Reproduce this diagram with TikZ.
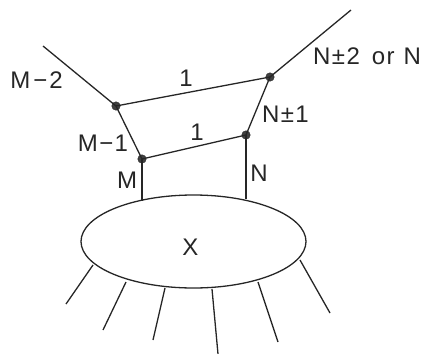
\documentclass[tikz,border=0pt]{standalone}
\usepackage{fontspec}
\setmainfont{Liberation Sans}[LetterSpace=6]
\usetikzlibrary{shapes.geometric}
\begin{document}
\begin{tikzpicture}[x=1pt,y=-1pt,
  ln/.style={line width=1.3pt,draw=black!85},
  vtx/.style={circle,fill=black!75,draw=black!85,inner sep=0pt,minimum size=8.5pt},
  lab/.style={font=\fontsize{24}{28}\selectfont,text=black!85,inner sep=0pt}]
\useasboundingbox (0,0) rectangle (432,354);
% vertices
\node[vtx] (UL) at (116,106) {};
\node[vtx] (UR) at (270,77) {};
\node[vtx] (LL) at (142,159) {};
\node[vtx] (LR) at (246,135) {};
\coordinate (TL) at (43,46);
\coordinate (TR) at (351,10);
% blob
\node[ellipse,ln,minimum width=225pt,minimum height=93pt,inner sep=0pt] (X) at (193.5,241.5) {};
\node[lab] at (190.5,247) {X};
% lines
\draw[ln] (TL) -- (UL.center) -- (UR.center) -- (TR);
\draw[ln] (UL.center) -- (LL.center) -- (LR.center) -- (UR.center);
\draw[ln] (LL.center) -- (142,201);
\draw[ln] (LR.center) -- (246,199);
% legs
\coordinate (a1) at (93,265); \coordinate (b1) at (66,304);
\coordinate (a2) at (126,282); \coordinate (b2) at (103,330);
\coordinate (a3) at (165,288); \coordinate (b3) at (153,340);
\coordinate (a4) at (212,289); \coordinate (b4) at (218,354);
\coordinate (a5) at (258,282); \coordinate (b5) at (278,342);
\coordinate (a6) at (300,260); \coordinate (b6) at (330,313);
\foreach \i in {1,...,6} \draw[ln] (a\i) -- (b\i);
% labels
\node[lab] (lm2) at (36.5,80) {M\hspace{3pt}−\hspace{2pt}2};
\node[lab] (lm1) at (103,143.5) {M−1};
\node[lab] (lm) at (127,180) {M};
\node[lab] (ln) at (259,173) {N};
\node[lab] (ln1) at (285.5,114) {N±1};
\node[lab,anchor=west] (ln2) at (313,56) {N±2\hspace{12pt}or\hspace{9pt}N};
\node[lab] (one1) at (186,78) {1};
\node[lab] (one2) at (197,132) {1};
\end{tikzpicture}
\end{document}
